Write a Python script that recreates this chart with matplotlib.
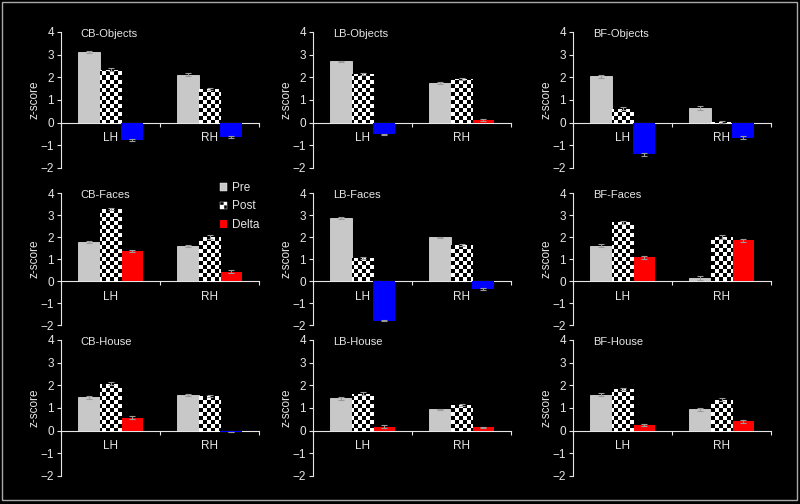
import matplotlib
matplotlib.use("Agg")
import matplotlib.pyplot as plt
import matplotlib.transforms as mtransforms
import numpy as np
from matplotlib.patches import Rectangle, Patch
from matplotlib.legend_handler import HandlerBase

BG = "black"
FG = "#e6e6e6"
PRE_C = "#c8c8c8"
POS_C = "#ff0000"
NEG_C = "#0000ff"
ERR_C = "#9a9a9a"

plt.rcParams["font.family"] = ["Liberation Sans", "DejaVu Sans"]

groups = ["CB", "LB", "BF"]
stimuli = ["Objects", "Faces", "House"]
hemis = ["LH", "RH"]

# [stimulus row][group column][LH, RH]
pre_vals = [
    [[3.12, 2.12], [2.70, 1.75], [2.04, 0.66]],
    [[1.79, 1.58], [2.85, 1.98], [1.60, 0.14]],
    [[1.48, 1.58], [1.43, 0.94], [1.59, 0.95]],
]
post_vals = [
    [[2.34, 1.49], [2.15, 1.92], [0.62, 0.03]],
    [[3.27, 1.98], [1.04, 1.62], [2.66, 2.00]],
    [[2.07, 1.53], [1.63, 1.12], [1.85, 1.37]],
]
delta_vals = [
    [[-0.78, -0.63], [-0.52, 0.13], [-1.40, -0.66]],
    [[1.38, 0.43], [-1.80, -0.36], [1.08, 1.86]],
    [[0.57, -0.06], [0.18, 0.15], [0.25, 0.41]],
]
pre_err = [
    [[0.03, 0.07], [0.04, 0.04], [0.07, 0.08]],
    [[0.04, 0.04], [0.05, 0.04], [0.07, 0.08]],
    [[0.07, 0.03], [0.06, 0.03], [0.05, 0.07]],
]
post_err = [
    [[0.07, 0.03], [0.06, 0.05], [0.06, 0.03]],
    [[0.06, 0.09], [0.03, 0.04], [0.05, 0.08]],
    [[0.07, 0.03], [0.07, 0.04], [0.04, 0.07]],
]
delta_err = [
    [[0.05, 0.05], [0.04, 0.04], [0.07, 0.06]],
    [[0.05, 0.05], [0.04, 0.04], [0.07, 0.07]],
    [[0.06, 0.02], [0.06, 0.03], [0.05, 0.05]],
]

# axes layout in pixels (800 x 504 canvas)
W, H = 800, 504
col_left = [61, 313, 573]
ax_w = 198
row_top = [32, 193, 340]
row_h = [136, 132, 136]


class CheckerHandler(HandlerBase):
    def create_artists(self, legend, orig_handle, xdescent, ydescent,
                       width, height, fontsize, trans):
        arts = []
        n = 2
        w, h = width / n, height / n
        for i in range(n):
            for j in range(n):
                fc = "white" if (i + j) % 2 == 0 else "black"
                arts.append(Rectangle((-xdescent + i * w, -ydescent + j * h), w, h,
                                      facecolor=fc, edgecolor="white", lw=0.3,
                                      transform=trans))
        return arts


def checker(nx, ny):
    return (np.add.outer(np.arange(ny), np.arange(nx)) % 2).astype(float)


fig = plt.figure(figsize=(W / 100, H / 100), dpi=100)
fig.patch.set_facecolor(BG)

x = np.arange(len(hemis))
bw = 0.22
ekw = {"ecolor": ERR_C, "capsize": 2, "elinewidth": 0.8, "capthick": 0.8,
       "zorder": 5}

for r, stim in enumerate(stimuli):
    tex = checker(ax_w // 4, row_h[r] // 4)
    for c, grp in enumerate(groups):
        ax = fig.add_axes([col_left[c] / W, 1 - (row_top[r] + row_h[r]) / H,
                           ax_w / W, row_h[r] / H])
        ax.set_facecolor(BG)

        ax.bar(x - bw, pre_vals[r][c], bw, yerr=pre_err[r][c],
               color=PRE_C, edgecolor="#eeeeee", linewidth=0.5, zorder=3,
               error_kw=ekw)

        post_bars = ax.bar(x, post_vals[r][c], bw, yerr=post_err[r][c],
                           color="white", edgecolor="white", linewidth=0.5,
                           zorder=3, error_kw=ekw)
        for bar in post_bars:
            im = ax.imshow(tex, cmap="gray_r", vmin=0, vmax=1,
                           extent=(-0.5, 1.5, -2, 4), aspect="auto",
                           interpolation="nearest", zorder=4)
            im.set_clip_path(bar)

        dcol = [POS_C if v > 0 else NEG_C for v in delta_vals[r][c]]
        ax.bar(x + bw, delta_vals[r][c], bw, yerr=delta_err[r][c],
               color=dcol, linewidth=0, zorder=3, error_kw=ekw)

        ax.set_xlim(-0.5, 1.5)
        ax.set_ylim(-2, 4)
        ax.set_yticks(range(-2, 5))
        ax.tick_params(axis="y", colors=FG, labelsize=8.5, length=3,
                       width=0.8, pad=2)

        ax.spines["bottom"].set_position(("data", 0))
        for s in ["top", "right"]:
            ax.spines[s].set_visible(False)
        for s in ["left", "bottom"]:
            ax.spines[s].set_color(FG)
            ax.spines[s].set_linewidth(0.8)

        ax.set_xticks(x)
        ax.set_xticklabels(hemis)
        ax.set_xticks([-0.5, 0.5, 1.5], minor=True)
        ax.tick_params(axis="x", which="major", length=0, pad=7,
                       labelcolor=FG, labelsize=8.5)
        ax.tick_params(axis="x", which="minor", length=3, width=0.8,
                       color=FG, direction="out")

        ax.set_ylabel("z-score", color=FG, fontsize=8.5, labelpad=0)
        ax.text(0.1, 3.9, f"{grp}-{stim}", color=FG, fontsize=8,
                ha="left", va="center",
                transform=mtransforms.blended_transform_factory(
                    ax.transAxes, ax.transData))

        if r == 1 and c == 0:
            handles = [Patch(facecolor=PRE_C, edgecolor="white", lw=0.3),
                       Patch(facecolor="white"),
                       Patch(facecolor=POS_C)]
            fig.legend(handles, ["Pre", "Post", "Delta"],
                       handler_map={handles[1]: CheckerHandler()},
                       loc="upper left",
                       bbox_to_anchor=(220 / W, 1 - 182 / H),
                       frameon=False, fontsize=8.5, labelcolor=FG,
                       handlelength=0.6, handleheight=0.6,
                       handletextpad=0.4, labelspacing=0.55,
                       borderaxespad=0, borderpad=0)

fig.add_artist(Rectangle((1.5 / W, 4 / H), (797 - 1.5) / W, (503 - 4 - 1) / H,
                         transform=fig.transFigure, fill=False,
                         edgecolor="#aaaaaa", linewidth=1))

fig.savefig("out.png", dpi=100, facecolor=BG)
